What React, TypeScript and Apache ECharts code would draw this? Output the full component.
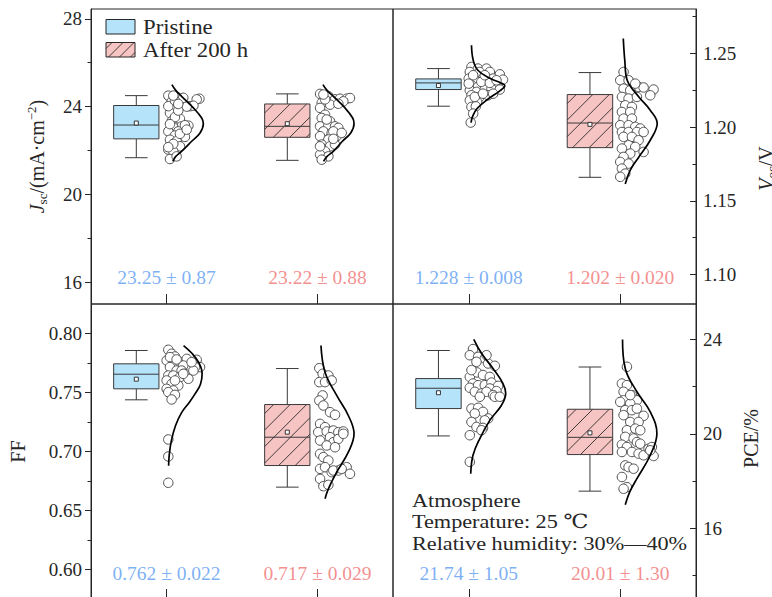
import React, { useEffect, useRef } from 'react';
import * as echarts from 'echarts';

const FONT = '"Liberation Serif", "DejaVu Serif", serif';
const INK = '#262626';

const categories = ['Pristine', 'After 200 h'];

// box statistics: [lower whisker, Q1, median, Q3, upper whisker, mean]
const jscBox = [[21.67, 22.53, 23.16, 24.05, 24.5, 23.25], [21.55, 22.6, 23.1, 24.12, 24.58, 23.22]];
const vocBox = [[1.2141, 1.2254, 1.2299, 1.2326, 1.2396, 1.2281], [1.1659, 1.186, 1.2027, 1.222, 1.2369, 1.2018]];
const ffBox = [[0.7438, 0.7531, 0.7655, 0.7743, 0.7856, 0.7613], [0.6698, 0.6881, 0.7121, 0.7398, 0.7703, 0.7164]];
const pceBox = [[19.91, 21.07, 21.93, 22.34, 23.53, 21.74], [17.57, 19.12, 19.85, 21.04, 22.83, 20.04]];

// individual devices: [jitter from category, value]
const jscPristine = [[0.012,24.50],[0.067,24.44],[0.218,24.36],[0.200,24.33],[0.034,24.22],[0.100,24.05],[0.045,23.99],[0.156,24.02],[0.178,24.04],[0.134,24.00],[0.023,23.71],[0.067,23.56],[0.089,23.44],[0.034,23.33],[0.145,23.13],[0.100,23.10],[0.045,23.06],[0.012,22.87],[0.078,22.87],[0.056,22.68],[0.100,22.65],[0.122,22.62],[0.023,22.49],[0.067,22.42],[0.089,22.19],[0.012,22.04],[0.045,21.96],[0.023,21.61],[0.067,21.73],[0.056,23.52],[0.012,24.02],[0.078,23.82],[0.111,24.40],[0.056,24.27],[0.023,23.20],[0.122,23.15],[0.045,22.30],[0.089,22.76],[0.012,22.15],[0.045,24.50],[0.134,22.95],[0.078,24.12]];
const jscAged = [[0.017,24.58],[0.072,24.47],[0.116,24.33],[0.149,24.36],[0.193,24.36],[0.215,24.39],[0.171,24.24],[0.028,24.17],[0.083,24.09],[0.138,24.13],[0.017,23.94],[0.050,23.63],[0.028,23.48],[0.083,23.33],[0.017,23.10],[0.072,23.13],[0.116,23.10],[0.138,23.03],[0.039,22.87],[0.094,22.80],[0.127,22.65],[0.017,22.65],[0.072,22.50],[0.028,22.27],[0.083,22.19],[0.116,22.27],[0.050,21.96],[0.017,21.81],[0.072,21.73],[0.028,21.58],[0.050,24.33],[0.105,22.87],[0.017,22.19],[0.061,23.41],[0.105,22.53],[0.039,24.55],[0.160,22.80]];
const vocPristine = [[0.018,1.2407],[0.061,1.2396],[0.117,1.2396],[0.007,1.2373],[0.072,1.2373],[0.139,1.2373],[0.205,1.2357],[0.0,1.2328],[0.040,1.2317],[0.094,1.2328],[0.161,1.2328],[0.226,1.2321],[0.018,1.2283],[0.061,1.2272],[0.117,1.2276],[0.172,1.2283],[0.007,1.2249],[0.051,1.2238],[0.106,1.2254],[0.150,1.2260],[0.205,1.2254],[0.018,1.2215],[0.072,1.2204],[0.128,1.2215],[0.007,1.2181],[0.055,1.2170],[0.018,1.2136],[0.047,1.2140],[0.029,1.2091],[0.013,1.2030],[0.083,1.2306],[0.139,1.2299],[0.183,1.2317],[0.029,1.2351],[0.106,1.2351],[0.040,1.2204],[0.094,1.2226],[0.0,1.2294],[0.161,1.2226]];
const vocAged = [[0.022,1.2373],[0.0,1.2317],[0.055,1.2317],[0.121,1.2272],[0.154,1.2268],[0.220,1.2254],[0.198,1.2215],[0.022,1.2260],[0.066,1.2249],[0.011,1.2204],[0.055,1.2193],[0.110,1.2204],[0.033,1.2147],[0.077,1.2136],[0.011,1.2102],[0.066,1.2102],[0.022,1.2057],[0.077,1.2057],[0.0,1.2012],[0.055,1.2012],[0.099,1.2001],[0.132,1.1990],[0.011,1.1966],[0.055,1.1966],[0.110,1.1966],[0.154,1.1966],[0.022,1.1933],[0.077,1.1933],[0.121,1.1910],[0.055,1.1876],[0.099,1.1865],[0.154,1.1831],[0.011,1.1854],[0.066,1.1820],[0.022,1.1797],[0.0,1.1763],[0.055,1.1752],[0.011,1.1718],[0.033,1.1684],[0.0,1.1662],[0.099,1.2294]];
const ffPristine = [[0.012,0.7862],[0.034,0.7828],[0.056,0.7805],[0.001,0.7771],[0.045,0.7743],[0.089,0.7757],[0.134,0.7785],[0.200,0.7777],[0.222,0.7715],[0.189,0.7715],[0.156,0.7715],[0.111,0.7729],[0.023,0.7715],[0.067,0.7686],[0.100,0.7686],[0.012,0.7644],[0.045,0.7644],[0.089,0.7630],[0.122,0.7658],[0.145,0.7616],[0.001,0.7602],[0.034,0.7573],[0.078,0.7559],[0.001,0.7531],[0.045,0.7517],[0.012,0.7503],[0.056,0.7480],[0.034,0.7441],[0.012,0.7102],[0.012,0.6958],[0.012,0.6735],[0.178,0.7686],[0.166,0.7757],[0.023,0.7800],[0.067,0.7780],[0.111,0.7658],[0.056,0.7602]];
const ffAged = [[0.012,0.7706],[0.034,0.7658],[0.072,0.7644],[0.012,0.7588],[0.050,0.7588],[0.094,0.7602],[0.034,0.7475],[0.012,0.7432],[0.039,0.7390],[0.083,0.7333],[0.116,0.7311],[0.017,0.7234],[0.050,0.7206],[0.005,0.7164],[0.061,0.7170],[0.105,0.7178],[0.138,0.7164],[0.171,0.7170],[0.017,0.7093],[0.083,0.7121],[0.105,0.7079],[0.138,0.7107],[0.171,0.7150],[0.061,0.7051],[0.116,0.7036],[0.017,0.6980],[0.039,0.6952],[0.072,0.6924],[0.017,0.6853],[0.050,0.6867],[0.094,0.6825],[0.138,0.6839],[0.193,0.6867],[0.215,0.6811],[0.017,0.6768],[0.039,0.6706],[0.072,0.6717],[0.105,0.6839],[0.160,0.6853]];
const pcePristine = [[0.028,23.59],[0.007,23.33],[0.062,23.26],[0.106,23.19],[0.051,23.05],[0.128,22.98],[0.172,22.88],[0.007,22.41],[0.055,22.60],[0.094,22.49],[0.139,22.41],[0.028,22.13],[0.007,21.95],[0.062,22.06],[0.106,22.06],[0.150,22.17],[0.194,22.03],[0.139,21.92],[0.183,21.81],[0.040,21.78],[0.084,21.71],[0.117,21.78],[0.161,21.64],[0.073,21.57],[0.172,21.57],[0.205,21.57],[0.018,21.07],[0.062,21.10],[0.094,20.93],[0.040,20.86],[0.128,20.65],[0.106,20.57],[0.018,20.50],[0.051,20.29],[0.094,20.25],[0.084,20.15],[0.007,19.94],[0.007,18.81],[0.117,23.33],[0.018,22.70]];
const pceAged = [[0.044,22.84],[0.011,22.13],[0.044,22.06],[0.022,21.78],[0.077,21.64],[0.022,21.42],[0.0,21.35],[0.110,21.42],[0.066,21.28],[0.033,21.00],[0.077,21.00],[0.110,21.07],[0.022,20.79],[0.154,20.76],[0.066,20.50],[0.121,20.50],[0.044,20.15],[0.099,20.22],[0.132,20.15],[0.033,19.87],[0.088,19.80],[0.011,19.54],[0.110,19.65],[0.132,19.58],[0.044,19.44],[0.077,19.23],[0.121,19.16],[0.154,19.09],[0.011,19.23],[0.187,19.37],[0.209,19.44],[0.220,19.06],[0.198,19.30],[0.033,18.66],[0.055,18.59],[0.011,18.17],[0.044,17.74],[0.022,17.67],[0.088,18.52],[0.066,21.64]];

// fitted distribution curves: [offset from category, value]
const jscPristineFit = [[0.036,25.0],[0.06,24.75],[0.10,24.47],[0.178,23.94],[0.233,23.48],[0.244,23.22],[0.222,22.80],[0.167,22.42],[0.10,21.96],[0.06,21.72],[0.042,21.50]];
const jscAgedFit = [[0.036,25.0],[0.062,24.75],[0.105,24.47],[0.182,23.94],[0.233,23.48],[0.242,23.22],[0.22,22.80],[0.165,22.42],[0.105,21.96],[0.062,21.72],[0.04,21.50]];
const vocPristineFit = [[0.018,1.2554],[0.03,1.245],[0.06,1.2385],[0.139,1.2330],[0.21,1.2300],[0.238,1.2280],[0.205,1.2245],[0.128,1.2190],[0.055,1.2125],[0.025,1.2070],[0.015,1.2030]];
const vocAgedFit = [[0.02,1.260],[0.03,1.245],[0.046,1.2317],[0.123,1.2204],[0.198,1.2114],[0.244,1.2025],[0.198,1.191],[0.123,1.1797],[0.066,1.1707],[0.033,1.1614]];
const ffPristineFit = [[0.113,0.7898],[0.17,0.783],[0.215,0.775],[0.236,0.766],[0.225,0.757],[0.19,0.749],[0.153,0.742],[0.10,0.733],[0.06,0.722],[0.032,0.709],[0.018,0.697],[0.014,0.688]];
const ffAgedFit = [[0.023,0.7898],[0.05,0.7672],[0.127,0.7475],[0.204,0.7305],[0.242,0.715],[0.204,0.6994],[0.127,0.6825],[0.072,0.6684],[0.05,0.66]];
const pcePristineFit = [[0.033,24.0],[0.084,23.41],[0.16,22.77],[0.226,22.13],[0.244,21.71],[0.216,21.21],[0.139,20.57],[0.073,19.80],[0.028,19.09],[0.013,18.31]];
const pceAgedFit = [[0.015,24.0],[0.033,22.77],[0.11,21.78],[0.198,20.93],[0.242,20.01],[0.198,19.09],[0.11,18.10],[0.062,17.53],[0.033,16.99]];

const jscStats = ['23.25 ± 0.87', '23.22 ± 0.88'];
const vocStats = ['1.228 ± 0.008', '1.202 ± 0.020'];
const ffStats = ['0.762 ± 0.022', '0.717 ± 0.029'];
const pceStats = ['21.74 ± 1.05', '20.01 ± 1.30'];

const jscRange = [15, 28.45];
const vocRange = [1.08, 1.28];
const ffRange = [0.575, 0.825];
const pceRange = [13, 25.5];

const jscTicks = [16, 20, 24, 28];
const jscMinor = [18, 22, 26];
const vocTicks = [1.10, 1.15, 1.20, 1.25];
const vocMinor = [1.125, 1.175, 1.225, 1.275];
const ffTicks = [0.60, 0.65, 0.70, 0.75, 0.80];
const ffMinor = [0.625, 0.675, 0.725, 0.775];
const pceTicks = [16, 20, 24];
const pceMinor = [14, 18, 22];

const annotation = ['Atmosphere', 'Temperature: 25 ℃', 'Relative humidity: 30%—40%'];

const BOX_FILL = ['#b5e3fa', '#f7c4c4'];
const STAT_COLOR = ['#5b9cf2', '#f07272'];

function hatch(x0: number, y0: number, w: number, h: number, step: number, phase: number) {
  const segs: number[][] = [];
  const cMax = x0 + w + y0 + h;
  for (let c = x0 + y0 + phase; c < cMax; c += step) {
    const xa = Math.max(x0, c - y0 - h);
    const xb = Math.min(x0 + w, c - y0);
    if (xb - xa > 0.5) segs.push([xa, c - xa, xb, c - xb]);
  }
  return segs;
}

const BOX_OFFSET = -0.2;
const BOX_HALF = 0.15;
const CAP_HALF = 0.075;

function renderBox(_params: any, api: any) {
  const cat = api.value(0);
  const g = api.value(7);
  const cx = cat + BOX_OFFSET;
  const pLow = api.coord([cx, api.value(1)]);
  const pQ1 = api.coord([cx, api.value(2)]);
  const pMed = api.coord([cx, api.value(3)]);
  const pQ3 = api.coord([cx, api.value(4)]);
  const pHigh = api.coord([cx, api.value(5)]);
  const pMean = api.coord([cx, api.value(6)]);
  const hw = api.size([BOX_HALF, 0])[0];
  const cw = api.size([CAP_HALF, 0])[0];
  const x = pQ1[0];
  const x0 = x - hw;
  const y0 = pQ3[1];
  const w = 2 * hw;
  const h = pQ1[1] - pQ3[1];
  const stroke = { stroke: '#3a3a3a', lineWidth: 1, fill: 'none' };
  const children: any[] = [
    { type: 'line', shape: { x1: x, y1: pHigh[1], x2: x, y2: pQ3[1] }, style: stroke },
    { type: 'line', shape: { x1: x - cw, y1: pHigh[1], x2: x + cw, y2: pHigh[1] }, style: stroke },
    { type: 'line', shape: { x1: x, y1: pQ1[1], x2: x, y2: pLow[1] }, style: stroke },
    { type: 'line', shape: { x1: x - cw, y1: pLow[1], x2: x + cw, y2: pLow[1] }, style: stroke },
    { type: 'rect', shape: { x: x0, y: y0, width: w, height: h }, style: { fill: BOX_FILL[g], stroke: 'none' } },
  ];
  if (g === 1) {
    hatch(x0, y0, w, h, 16.5, 9).forEach((s) => {
      children.push({ type: 'line', shape: { x1: s[0], y1: s[1], x2: s[2], y2: s[3] }, style: { stroke: '#2a2a2a', lineWidth: 0.9 } });
    });
  }
  children.push({ type: 'rect', shape: { x: x0, y: y0, width: w, height: h }, style: stroke });
  children.push({ type: 'line', shape: { x1: x0, y1: pMed[1], x2: x0 + w, y2: pMed[1] }, style: stroke });
  children.push({ type: 'rect', shape: { x: x - 2, y: pMean[1] - 2, width: 4, height: 4 }, style: { fill: '#fff', stroke: '#222', lineWidth: 0.9 } });
  return { type: 'group', children };
}

export default function App() {
  const ref = useRef<HTMLDivElement>(null);
  useEffect(() => {
    if (!ref.current) return;
    const chart = echarts.init(ref.current, undefined, { renderer: 'svg' });

    const panels = [
      { box: jscBox, pts: [jscPristine, jscAged], fits: [jscPristineFit, jscAgedFit], stats: jscStats, range: jscRange, ticks: jscTicks, minor: jscMinor, right: false, dec: 0, statY: 16.2,
        name: '{i|J}{sub|sc}{n|/(mA·cm}{sup|−2}{n|)}', gap: 42, pad: [0, 0, 0, 0] },
      { box: vocBox, pts: [vocPristine, vocAged], fits: [vocPristineFit, vocAgedFit], stats: vocStats, range: vocRange, ticks: vocTicks, minor: vocMinor, right: true, dec: 2, statY: 1.0977,
        name: '{i|V}{sub|oc}{n|/V}', gap: 58, pad: [0, 24, 0, 0] },
      { box: ffBox, pts: [ffPristine, ffAged], fits: [ffPristineFit, ffAgedFit], stats: ffStats, range: ffRange, ticks: ffTicks, minor: ffMinor, right: false, dec: 2, statY: 0.597,
        name: '{n|FF}', gap: 61, pad: [0, 0, 0, 0] },
      { box: pceBox, pts: [pcePristine, pceAged], fits: [pcePristineFit, pceAgedFit], stats: pceStats, range: pceRange, ticks: pceTicks, minor: pceMinor, right: true, dec: 0, statY: 14.09,
        name: '{n|PCE/%}', gap: 43, pad: [0, 0, 0, 26] },
    ];

    const gridPos = [
      { left: 91, top: 9, width: 302, height: 295 },
      { left: 393, top: 9, width: 303, height: 295 },
      { left: 91, top: 304, width: 302, height: 295 },
      { left: 393, top: 304, width: 303, height: 295 },
    ];

    const rich = {
      i: { fontFamily: FONT, fontSize: 20, fontStyle: 'italic', lineHeight: 24, color: INK },
      n: { fontFamily: FONT, fontSize: 20, lineHeight: 24, color: INK },
      sub: { fontFamily: FONT, fontSize: 13, lineHeight: 10, verticalAlign: 'bottom', color: INK },
      sup: { fontFamily: FONT, fontSize: 13, lineHeight: 10, verticalAlign: 'top', color: INK },
    };

    const grid = gridPos.map((g) => ({ ...g, show: true, borderColor: INK, borderWidth: 1, backgroundColor: 'transparent', containLabel: false, outerBoundsMode: 'none' }));

    const xAxis = panels.map((_p, i) => ({
      gridIndex: i, type: 'value', min: 0.5, max: 2.5,
      axisLine: { show: false, onZero: false },
      axisTick: { show: true, inside: true, length: 10, customValues: [1, 2], lineStyle: { color: INK } },
      axisLabel: { show: false },
      splitLine: { show: false },
    }));

    const yAxis: any[] = [];
    panels.forEach((p, i) => {
      yAxis.push({
        gridIndex: i, type: 'value', min: p.range[0], max: p.range[1], position: p.right ? 'right' : 'left',
        axisLine: { show: true, onZero: false, lineStyle: { color: INK } },
        axisTick: { show: true, inside: p.right, length: 6, customValues: p.ticks, lineStyle: { color: INK } },
        axisLabel: { show: true, customValues: p.ticks, margin: p.right ? 7 : 9, fontSize: 19, fontFamily: FONT, color: INK,
          formatter: (v: number) => v.toFixed(p.dec) },
        splitLine: { show: false },
        name: p.name, nameLocation: 'middle', nameGap: p.gap, nameRotate: 90,
        nameTextStyle: { fontSize: 20, fontFamily: FONT, color: INK, rich, padding: p.pad },
      });
    });
    panels.forEach((p, i) => {
      yAxis.push({
        gridIndex: i, type: 'value', min: p.range[0], max: p.range[1], position: p.right ? 'right' : 'left',
        axisLine: { show: false, onZero: false },
        axisTick: { show: true, inside: p.right, length: 3.5, customValues: p.minor, lineStyle: { color: INK } },
        axisLabel: { show: false },
        splitLine: { show: false },
      });
    });

    const series: any[] = [];
    panels.forEach((p, i) => {
      series.push({
        type: 'custom', xAxisIndex: i, yAxisIndex: i, renderItem: renderBox, z: 2, silent: true,
        encode: { x: 0, y: 3 },
        data: p.box.map((b, g) => [g + 1, ...b, g]),
      });
      p.pts.forEach((pts, g) => {
        series.push({
          type: 'scatter', name: categories[g], xAxisIndex: i, yAxisIndex: i, z: 3, silent: true,
          symbol: 'circle', symbolSize: 9.5,
          itemStyle: { color: '#ffffff', borderColor: '#505050', borderWidth: 1, opacity: 1 },
          data: pts.map(([dx, v]) => [g + 1 + dx, v]),
        });
      });
      p.fits.forEach((fit, g) => {
        series.push({
          type: 'line', xAxisIndex: i, yAxisIndex: i, z: 4, silent: true, smooth: 0.4,
          symbol: 'none', showSymbol: false,
          lineStyle: { color: '#000', width: 1.7 },
          data: fit.map(([dx, v]) => [g + 1 + dx, v]),
        });
      });
      series.push({
        type: 'scatter', xAxisIndex: i, yAxisIndex: i, z: 5, silent: true, symbolSize: 1,
        itemStyle: { color: 'rgba(0,0,0,0)' },
        label: { show: true, position: 'inside', fontSize: 19.5, fontFamily: FONT },
        data: p.stats.map((t, g) => ({ value: [g + 1, p.statY], label: { formatter: t, color: STAT_COLOR[g] } })),
      });
    });

    const graphic: any[] = [];
    // legend
    graphic.push({ type: 'rect', shape: { x: 106, y: 19.5, width: 29, height: 14.5 }, style: { fill: BOX_FILL[0], stroke: INK, lineWidth: 1 } });
    graphic.push({ type: 'rect', shape: { x: 106, y: 42.5, width: 29, height: 14.5 }, style: { fill: BOX_FILL[1], stroke: 'none' } });
    hatch(106, 42.5, 29, 14.5, 11, 6).forEach((s) => {
      graphic.push({ type: 'line', shape: { x1: s[0], y1: s[1], x2: s[2], y2: s[3] }, style: { stroke: '#2a2a2a', lineWidth: 0.9 } });
    });
    graphic.push({ type: 'rect', shape: { x: 106, y: 42.5, width: 29, height: 14.5 }, style: { fill: 'none', stroke: INK, lineWidth: 1 } });
    categories.forEach((c, k) => {
      graphic.push({ type: 'text', x: 143, y: 27 + 23 * k, scaleX: 1.14, style: { text: c, fontSize: 20, fontFamily: FONT, fill: INK, textVerticalAlign: 'middle' } });
    });
    annotation.forEach((t, k) => {
      graphic.push({ type: 'text', x: 412, y: 500 + 21.5 * k, scaleX: 1.14, style: { text: t, fontSize: 19.5, fontFamily: FONT, fill: INK, textVerticalAlign: 'middle' } });
    });

    chart.setOption({
      animation: false,
      textStyle: { fontFamily: FONT },
      grid, xAxis, yAxis, series, graphic,
    });
    return () => chart.dispose();
  }, []);
  return <div ref={ref} style={{ position: 'fixed', left: 0, top: 0, width: 772, height: 597, background: '#fff' }} />;
}
